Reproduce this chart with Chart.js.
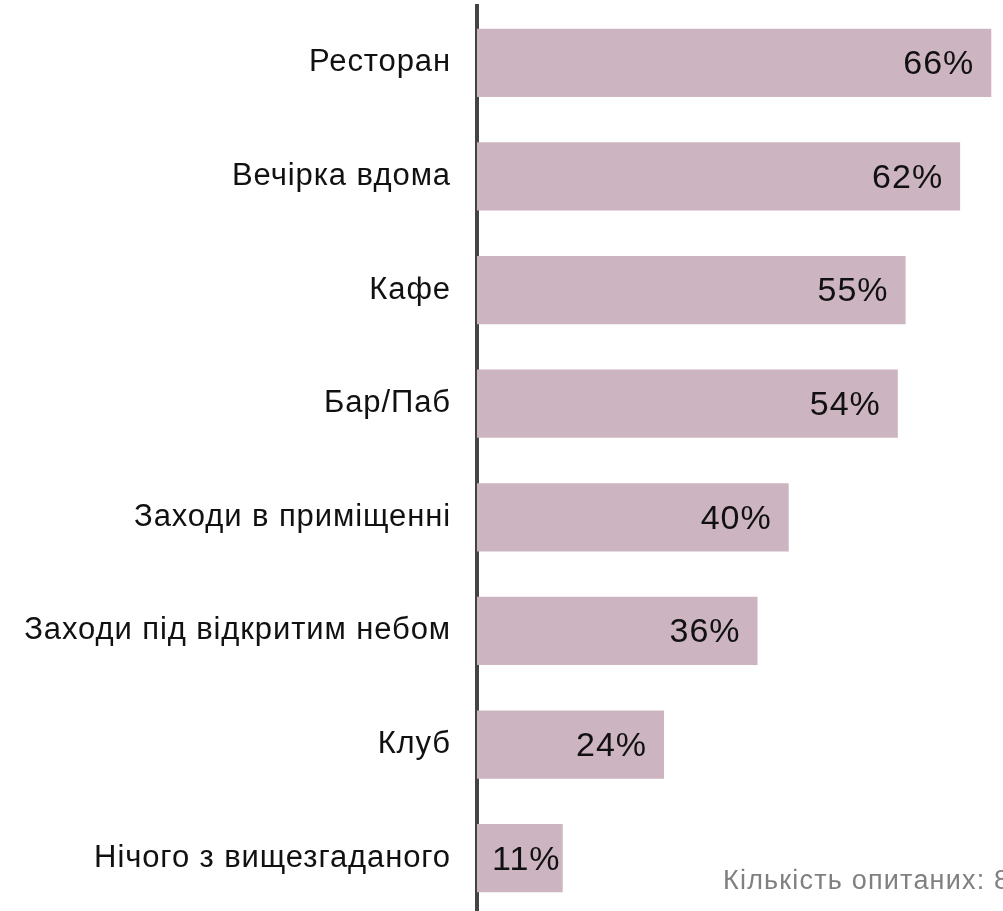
<!DOCTYPE html>
<html>
<head>
<meta charset="utf-8">
<script src="https://cdn.jsdelivr.net/npm/chart.js@4"></script>
<style>
  html, body { margin: 0; padding: 0; background: #fff; overflow: hidden; }
  #wrap { position: relative; width: 1003px; height: 920px; }
  #note { position: absolute; left: 723px; top: 865px; font: 27px "Liberation Sans", Arial, sans-serif; letter-spacing: 1.2px; color: #808080; white-space: nowrap; }
</style>
</head>
<body>
<div id="wrap">
  <canvas id="myChart"></canvas>
  <div id="note">Кількість опитаних: 8</div>
</div>
<script>
var categories = ["Ресторан", "Вечірка вдома", "Кафе", "Бар/Паб", "Заходи в приміщенні", "Заходи під відкритим небом", "Клуб", "Нічого з вищезгаданого"];
var values = [66, 62, 55, 54, 40, 36, 24, 11];

// wider spacing for the category labels
var spacing = {
    id: 'spacing',
    beforeDraw: function(chart) { chart.ctx.letterSpacing = '0.9px'; },
    afterDraw: function(chart) { chart.ctx.letterSpacing = '0px'; }
};

// value text at the inner end of each bar
var barLabels = {
    id: 'barLabels',
    afterDatasetsDraw: function(chart) {
        var c = chart.ctx;
        var meta = chart.getDatasetMeta(0);
        var left = chart.chartArea.left + 15;
        c.save();
        c.font = '34px "Liberation Sans", Arial, sans-serif';
        c.letterSpacing = '1px';
        c.fillStyle = '#111';
        c.textAlign = 'left';
        c.textBaseline = 'middle';
        meta.data.forEach(function(bar, i) {
            var txt = values[i] + '%';
            var w = c.measureText(txt).width;
            var x = Math.max(bar.x - 17 - w, left);
            c.fillText(txt, x, bar.y + 2);
        });
        c.restore();
    }
};

var ctx = document.getElementById("myChart");
var myBarChart = new Chart(ctx, {
    type: 'bar',
    data: {
        labels: categories,
        datasets: [{
            data: values,
            backgroundColor: '#cdb4c1',
            borderWidth: 0,
            barPercentage: 0.6,
            categoryPercentage: 1
        }]
    },
    options: {
        indexAxis: 'y',
        responsive: true,
        maintainAspectRatio: false,
        animation: false,
        layout: { padding: { top: 6, bottom: 5, left: 0, right: 0 } },
        plugins: {
            legend: { display: false },
            tooltip: { enabled: false }
        },
        scales: {
            x: {
                display: false,
                min: 0,
                max: 67.5
            },
            y: {
                afterFit: function(s) {
                    s.width = 477;
                    s.paddingTop = 0;
                    s.paddingBottom = 0;
                },
                grid: { display: false, drawTicks: false },
                border: { display: true, color: '#444', width: 4 },
                ticks: {
                    padding: 26,
                    color: '#111',
                    font: { family: '"Liberation Sans", Arial, sans-serif', size: 31, lineHeight: 1.0 }
                }
            }
        }
    },
    plugins: [spacing, barLabels]
});
</script>
</body>
</html>
